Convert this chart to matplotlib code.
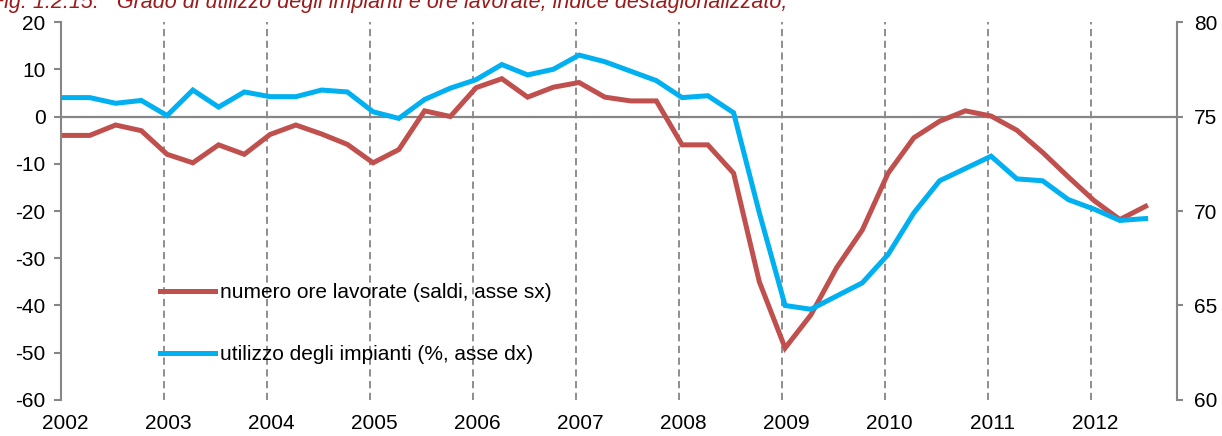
import matplotlib
matplotlib.use("Agg")
import matplotlib.pyplot as plt
import matplotlib.transforms as mtransforms
import numpy as np

plt.rcParams['font.family'] = ['Liberation Sans', 'DejaVu Sans']
plt.rcParams['axes.unicode_minus'] = False

# quarterly data, 2002Q1 - 2012Q3
ore_lavorate = [-4, -4, -1.8, -3, -8, -9.8, -6, -8,
                -3.8, -1.8, -3.7, -5.9, -9.8, -7, 1.2, 0,
                6.1, 8, 4.1, 6.2, 7.2, 4.1, 3.3, 3.3,
                -6, -6, -12, -35, -49, -42, -32, -24,
                -12, -4.5, -1, 1.2, 0.1, -2.9, -7.6, -12.8,
                -17.8, -21.8, -19]
utilizzo_impianti = [76.0, 76.0, 75.7, 75.85, 75.05, 76.4, 75.5, 76.3,
                     76.05, 76.05, 76.4, 76.3, 75.25, 74.9, 75.9, 76.5,
                     76.95, 77.75, 77.2, 77.5, 78.25, 77.9, 77.4, 76.9,
                     76.0, 76.1, 75.2, 69.9, 65.0, 64.8, 65.5, 66.2,
                     67.7, 69.9, 71.6, 72.25, 72.9, 71.7, 71.6, 70.6,
                     70.1, 69.5, 69.6]
anni = list(range(2002, 2013))
lbl_ore = "numero ore lavorate (saldi, asse sx)"
lbl_imp = "utilizzo degli impianti (%, asse dx)"
titolo = "Fig. 1.2.15:   Grado di utilizzo degli impianti e ore lavorate, indice destagionalizzato,"

x = 2002.03 + 0.25 * np.arange(len(ore_lavorate))

red = '#C0504D'
blue = '#00B0F0'
grey = '#868686'

fig = plt.figure(figsize=(12.22, 4.36), dpi=100)
ax = fig.add_axes([0.0499, 0.0826, 0.9133, 0.8669])
ax2 = ax.twinx()

l1, = ax.plot(x, ore_lavorate, color=red, lw=3.6, solid_joinstyle='miter', label=lbl_ore)
l2, = ax2.plot(x, utilizzo_impianti, color=blue, lw=3.6, solid_joinstyle='miter', label=lbl_imp)

ax.set_xlim(2002, 2012.835)
ax.set_ylim(-60, 20)
ax2.set_ylim(60, 80)
ax.set_yticks(range(-60, 21, 10))
ax2.set_yticks(range(60, 81, 5))

# year gridlines and zero line
for a in anni[1:]:
    ax.axvline(a, color=grey, lw=1.3, ls=(0, (4, 2.5)), zorder=0)
ax.axhline(0, color=grey, lw=1.6, zorder=0)

ax.set_xticks(anni)
ax.set_xticklabels([str(a) for a in anni])
ax.tick_params(axis='x', length=0, pad=10, labelsize=15)
offset = mtransforms.ScaledTranslation(4 / 100, 0, fig.dpi_scale_trans)
for t in ax.get_xticklabels():
    t.set_transform(t.get_transform() + offset)

for a_ in (ax, ax2):
    for s in ('top', 'bottom'):
        a_.spines[s].set_visible(False)
    a_.spines['left'].set_color(grey)
    a_.spines['right'].set_color(grey)
    a_.spines['left'].set_linewidth(1.5)
    a_.spines['right'].set_linewidth(1.5)
ax.spines['right'].set_visible(False)
ax2.spines['left'].set_visible(False)
ax.tick_params(axis='y', length=5, width=1.5, color=grey, pad=6, labelsize=15)
ax2.tick_params(axis='y', length=4, width=1.5, color=grey, pad=8, labelsize=15)

ax.legend([l1, l2], [lbl_ore, lbl_imp], loc='upper left', bbox_to_anchor=(0.0887, 0.31),
          frameon=False, fontsize=15, handlelength=2.65, handletextpad=0.24,
          labelspacing=2.09, borderpad=0, borderaxespad=0)

fig.text(-0.0074, 1 - 8 / 436, titolo, color='#9B1B1B', style='italic', fontsize=15.5, va='baseline')

fig.savefig('out.png', dpi=100)
